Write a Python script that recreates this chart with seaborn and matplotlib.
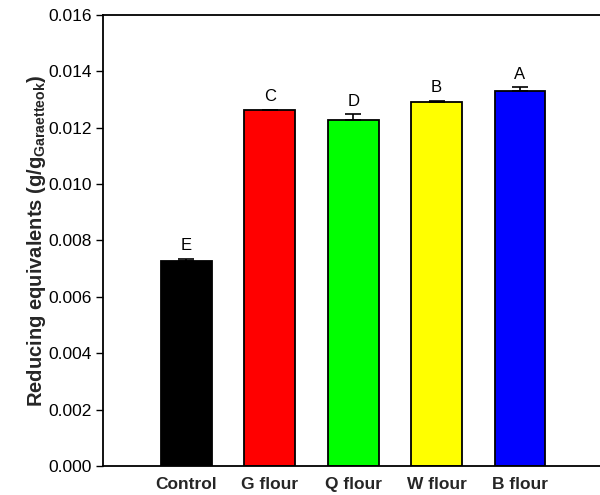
import matplotlib
matplotlib.use("Agg")
import matplotlib.pyplot as plt
import seaborn as sns
import pandas as pd
import numpy as np

categories = ["Control", "G flour", "Q flour", "W flour", "B flour"]
values = [0.00726, 0.01262, 0.01229, 0.01293, 0.01332]
errors = [0.00010, 0.00001, 0.00019, 0.00002, 0.00012]
letters = ["E", "C", "D", "B", "A"]
colors = ["#000000", "#ff0000", "#00ff00", "#ffff00", "#0000ff"]

sns.set_theme(style="white")
plt.rcParams["font.family"] = ["Liberation Sans", "DejaVu Sans"]
plt.rcParams["mathtext.fontset"] = "custom"
plt.rcParams["mathtext.rm"] = "Liberation Sans"

df = pd.DataFrame({"group": categories, "value": values})

fig = plt.figure(figsize=(6, 4.95), dpi=100)
ax = fig.add_axes([0.1717, 0.0586, 0.8283, 0.9111])

sns.barplot(data=df, x="group", y="value", hue="group", palette=colors,
            order=categories, errorbar=None, width=0.61, legend=False,
            saturation=1, edgecolor="black", linewidth=1.3, ax=ax)

x = np.arange(len(categories))
ax.errorbar(x, values, yerr=[np.zeros(len(errors)), errors], fmt="none",
            ecolor="black", elinewidth=1.2, capsize=5.5, capthick=1.2)

for xi, v, e, lab in zip(x, values, errors, letters):
    ax.annotate(lab, (xi, v + e), xytext=(0, 4), textcoords="offset points",
                ha="center", va="bottom", fontsize=12, color="black")

ax.set_xlim(-1, 4.96)
ax.set_ylim(0, 0.016)
ax.set_yticks(np.arange(0, 0.0161, 0.002))
ax.set_yticklabels([f"{t:.3f}" for t in np.arange(0, 0.0161, 0.002)])
ax.tick_params(axis="y", direction="out", length=5, width=1, labelsize=12.5,
               left=True, colors="black", pad=3)
ax.tick_params(axis="x", length=0, pad=8, labelsize=12.5)
for lbl in ax.get_xticklabels():
    lbl.set_fontweight("bold")

ax.set_xlabel("")
ax.set_ylabel(r"Reducing equivalents (g/g$_{\mathregular{Garaetteok}}$)",
              fontsize=14.5, fontweight="bold", labelpad=0)

for side in ["left", "bottom", "top"]:
    ax.spines[side].set_visible(True)
    ax.spines[side].set_color("black")
    ax.spines[side].set_linewidth(1.3)
ax.spines["right"].set_visible(False)

fig.savefig("out.png", dpi=100, facecolor="white")
